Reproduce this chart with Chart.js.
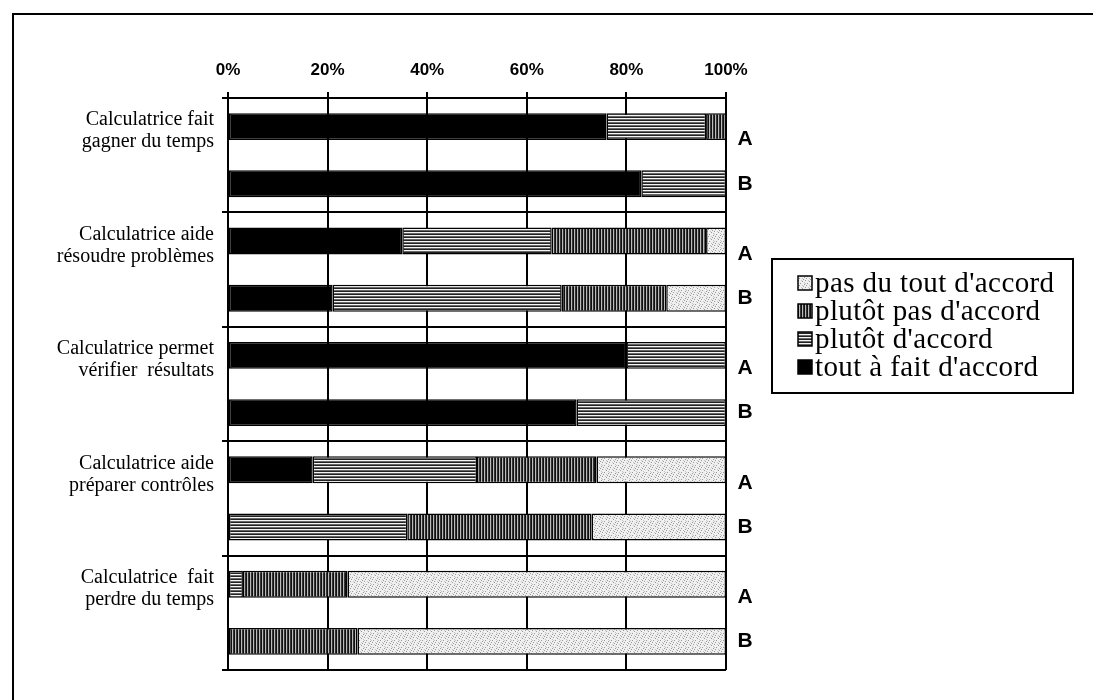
<!DOCTYPE html>
<html>
<head>
<meta charset="utf-8">
<script src="https://cdn.jsdelivr.net/npm/chart.js@4.4.1/dist/chart.umd.min.js"></script>
<style>
  html, body { margin: 0; padding: 0; background: #fff; }
  #wrap { width: 1093px; height: 700px; }
</style>
</head>
<body>
<div id="wrap"><canvas id="chart" width="1093" height="700"></canvas></div>
<script>
// categories (two-line labels)
const categories = [
  ['Calculatrice fait', 'gagner du temps'],
  ['Calculatrice aide', 'résoudre problèmes'],
  ['Calculatrice permet', 'vérifier  résultats'],
  ['Calculatrice aide', 'préparer contrôles'],
  ['Calculatrice  fait', 'perdre du temps']
];
const groups = ['A', 'B'];
const tickLabels = [0, 20, 40, 60, 80, 100];

// % of answers, group A
const toutAFaitA     = [76, 35, 80, 17, 0];
const plutotAccordA  = [20, 30, 20, 33, 3];
const plutotPasA     = [4, 31, 0, 24, 21];
const pasDuToutA     = [0, 4, 0, 26, 76];
// % of answers, group B
const toutAFaitB     = [83, 21, 70, 0, 0];
const plutotAccordB  = [17, 46, 30, 36, 0];
const plutotPasB     = [0, 21, 0, 37, 26];
const pasDuToutB     = [0, 12, 0, 27, 74];

const answerLabels = ["tout à fait d'accord", "plutôt d'accord", "plutôt pas d'accord", "pas du tout d'accord"];

// fill patterns
function makePattern(kind) {
  const c = document.createElement('canvas');
  const x = c.getContext('2d');
  if (kind === 'solid') {
    c.width = 2; c.height = 2;
    x.fillStyle = '#000'; x.fillRect(0, 0, 2, 2);
  } else if (kind === 'hlines') {
    c.width = 6; c.height = 3;
    x.fillStyle = '#222'; x.fillRect(0, 0, 6, 3);
    x.fillStyle = '#f4f4f4'; x.fillRect(0, 1, 6, 1);
    x.fillStyle = '#666'; x.fillRect(0, 2, 6, 1);
  } else if (kind === 'vlines') {
    c.width = 3; c.height = 6;
    x.fillStyle = '#111'; x.fillRect(0, 0, 3, 6);
    x.fillStyle = '#bbb'; x.fillRect(1, 0, 1, 6);
    x.fillStyle = '#333'; x.fillRect(2, 0, 1, 6);
  } else {
    c.width = 7; c.height = 7;
    x.fillStyle = '#f0f0f0'; x.fillRect(0, 0, 7, 7);
    x.fillStyle = '#999';
    [[0, 0], [4, 1], [2, 3], [6, 4], [1, 5], [5, 6]].forEach(p => x.fillRect(p[0], p[1], 1, 1));
    x.fillStyle = '#c4c4c4';
    [[3, 0], [6, 2], [0, 3], [4, 5]].forEach(p => x.fillRect(p[0], p[1], 1, 1));
  }
  return document.getElementById('chart').getContext('2d').createPattern(c, 'repeat');
}
const fills = [makePattern('solid'), makePattern('hlines'), makePattern('vlines'), makePattern('stipple')];

const seriesA = [toutAFaitA, plutotAccordA, plutotPasA, pasDuToutA];
const seriesB = [toutAFaitB, plutotAccordB, plutotPasB, pasDuToutB];

const datasets = [];
[seriesA, seriesB].forEach((series, g) => {
  series.forEach((vals, i) => {
    datasets.push({
      label: answerLabels[i],
      data: vals,
      stack: groups[g],
      backgroundColor: fills[i],
      borderColor: '#000',
      borderWidth: 1.5,
      borderSkipped: false,
      barPercentage: 0.47,
      categoryPercentage: 1
    });
  });
});

const framePlugin = {
  id: 'frame',
  beforeDraw(chart) {
    const ctx = chart.ctx;
    ctx.save();
    ctx.fillStyle = '#fff';
    ctx.fillRect(0, 0, chart.width, chart.height);
    ctx.strokeStyle = '#000';
    ctx.lineWidth = 2;
    ctx.beginPath();
    ctx.moveTo(13, chart.height + 5);
    ctx.lineTo(13, 14);
    ctx.lineTo(chart.width + 5, 14);
    ctx.stroke();
    ctx.restore();
  }
};

const groupLabelPlugin = {
  id: 'groupLabels',
  afterDatasetsDraw(chart) {
    const ctx = chart.ctx;
    const x = chart.chartArea.right + 19;
    ctx.save();
    ctx.fillStyle = '#000';
    ctx.font = 'bold 21px "Liberation Sans", Arial, sans-serif';
    ctx.textAlign = 'center';
    ctx.textBaseline = 'middle';
    groups.forEach((g, gi) => {
      const meta = chart.getDatasetMeta(gi * 4);
      meta.data.forEach(bar => {
        ctx.fillText(g, x, bar.y + (gi === 0 ? 13 : 0));
      });
    });
    ctx.restore();
  }
};

const legendPlugin = {
  id: 'boxLegend',
  afterDraw(chart) {
    const ctx = chart.ctx;
    const left = 772, top = 259, w = 301, h = 134;
    ctx.save();
    ctx.fillStyle = '#fff';
    ctx.fillRect(left, top, w, h);
    ctx.strokeStyle = '#000';
    ctx.lineWidth = 2;
    ctx.strokeRect(left, top, w, h);
    ctx.font = '29px "Liberation Serif", "Times New Roman", serif';
    if ('letterSpacing' in ctx) ctx.letterSpacing = '0.4px';
    ctx.textBaseline = 'middle';
    ctx.textAlign = 'left';
    const order = [3, 2, 1, 0];
    order.forEach((di, row) => {
      const ds = chart.data.datasets[di];
      const cy = top + 24 + row * 28;
      ctx.fillStyle = ds.backgroundColor;
      ctx.fillRect(left + 26, cy - 7, 14, 14);
      ctx.strokeStyle = '#000';
      ctx.lineWidth = 1.5;
      ctx.strokeRect(left + 26, cy - 7, 14, 14);
      ctx.fillStyle = '#000';
      ctx.fillText(ds.label, left + 43, cy + 1);
    });
    ctx.restore();
  }
};

new Chart(document.getElementById('chart'), {
  type: 'bar',
  data: { labels: categories, datasets },
  options: {
    indexAxis: 'y',
    responsive: false,
    animation: false,
    layout: { padding: { left: 0, right: 367, top: 0, bottom: 24 } },
    plugins: {
      legend: { display: false },
      tooltip: { enabled: false }
    },
    scales: {
      x: {
        position: 'top',
        stacked: true,
        min: 0,
        max: 100,
        afterBuildTicks: s => { s.ticks = tickLabels.map(v => ({ value: v })); },
        afterFit: s => { s.height = 98; },
        ticks: {
          callback: v => v + '%',
          color: '#000',
          padding: 11,
          maxRotation: 0,
          font: { family: '"Liberation Sans", Arial, sans-serif', size: 17, weight: 'bold' }
        },
        grid: { color: '#000', lineWidth: 2, tickLength: 6, drawOnChartArea: true },
        border: { color: '#000', width: 2 }
      },
      y: {
        stacked: true,
        afterFit: s => { s.width = 228; },
        ticks: {
          color: '#000',
          padding: 8,
          labelOffset: -24,
          font: { family: '"Liberation Serif", "Times New Roman", serif', size: 20, lineHeight: 1.1 }
        },
        grid: { color: '#000', lineWidth: 2, tickLength: 6, offset: true },
        border: { color: '#000', width: 2 }
      }
    }
  },
  plugins: [framePlugin, groupLabelPlugin, legendPlugin]
});
</script>
</body>
</html>
